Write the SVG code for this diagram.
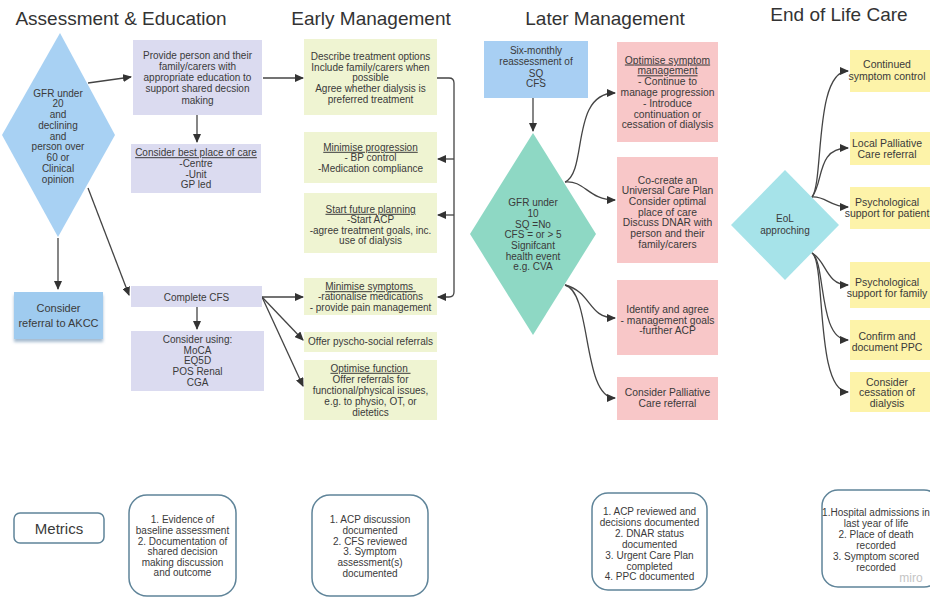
<svg xmlns="http://www.w3.org/2000/svg" width="930" height="602" viewBox="0 0 930 602">
<defs>
<style>
.t{font-family:"Liberation Sans",Arial,sans-serif;font-size:10px;fill:#3a3a3a;text-anchor:middle}
.h{font-family:"Liberation Sans",Arial,sans-serif;font-size:19px;fill:#333;text-anchor:middle}
.u{text-decoration:underline}
.c{fill:none;stroke:#444;stroke-width:1.3}
.lav{fill:#dbdbf0}
.grn{fill:#eff4d2}
.pnk{fill:#f8c7c8}
.yel{fill:#fdf3a9}
.yt{font-size:10.5px}
.met{fill:#fff;stroke:#5f8499;stroke-width:1.5}
</style>
<marker id="ah" markerWidth="9" markerHeight="8" refX="8" refY="4" orient="auto" markerUnits="userSpaceOnUse"><path d="M0,0 L9,4 L0,8 z" fill="#333"/></marker>
<filter id="sh" x="-10%" y="-10%" width="120%" height="130%"><feDropShadow dx="0" dy="3" stdDeviation="1.5" flood-color="#6d8fb0" flood-opacity="0.6"/></filter>
</defs>
<rect width="930" height="602" fill="#fff"/>

<g id="titles">
<text class="h" x="121" y="25">Assessment &amp; Education</text>
<text class="h" x="371" y="25">Early Management</text>
<text class="h" x="605" y="25">Later Management</text>
<text class="h" x="839" y="21">End of Life Care</text>
</g>

<g id="connectors">
<path class="c" d="M88,83 L131,77" marker-end="url(#ah)"/>
<path class="c" d="M263,78 H303" marker-end="url(#ah)"/>
<path class="c" d="M197,115 V142" marker-end="url(#ah)"/>
<path class="c" d="M58,238 V289" marker-end="url(#ah)"/>
<path class="c" d="M88,188 L129,295" marker-end="url(#ah)"/>
<path class="c" d="M197,307 V329" marker-end="url(#ah)"/>
<path class="c" d="M262,297 H303" marker-end="url(#ah)"/>
<path class="c" d="M262,297 L303,340" marker-end="url(#ah)"/>
<path class="c" d="M262,297 L303,386" marker-end="url(#ah)"/>
<path class="c" d="M437,78 H449 Q454,78 454,83 V292 Q454,297 449,297 H438" marker-end="url(#ah)"/>
<path class="c" d="M454,159 H438" marker-end="url(#ah)"/>
<path class="c" d="M454,215 H438" marker-end="url(#ah)"/>
<path class="c" d="M533,98 V131" marker-end="url(#ah)"/>
<path class="c" d="M565,182 C588,172 570,93 615,93" marker-end="url(#ah)"/>
<path class="c" d="M565,182 C585,180 588,200 615,200" marker-end="url(#ah)"/>
<path class="c" d="M565,285 C592,292 588,318 615,318" marker-end="url(#ah)"/>
<path class="c" d="M565,285 C592,292 582,398 615,398" marker-end="url(#ah)"/>
<path class="c" d="M812,197 C824,182 814,71 848,71" marker-end="url(#ah)"/>
<path class="c" d="M812,197 C824,182 816,148 848,148" marker-end="url(#ah)"/>
<path class="c" d="M812,197 C826,196 830,207 848,207" marker-end="url(#ah)"/>
<path class="c" d="M812,253 C826,260 826,285 848,285" marker-end="url(#ah)"/>
<path class="c" d="M812,253 C826,262 818,340 848,340" marker-end="url(#ah)"/>
<path class="c" d="M812,253 C826,262 815,392 848,392" marker-end="url(#ah)"/>
</g>

<g id="gfr20">
<path d="M60,33 L115,135 L58,237 L2,135 Z" fill="#a8d1f3"/>
<text class="t"><tspan x="58" y="96.5">GFR under</tspan><tspan x="58" y="107.2">20</tspan><tspan x="58" y="118">and</tspan><tspan x="58" y="128.7">declining</tspan><tspan x="58" y="139.5">and</tspan><tspan x="58" y="150.2">person over</tspan><tspan x="58" y="161">60  or</tspan><tspan x="58" y="171.7">Clinical</tspan><tspan x="58" y="182.5">opinion</tspan></text>
</g>

<g id="provide">
<rect class="lav" x="133" y="40" width="129" height="75"/>
<text class="t"><tspan x="197.5" y="58.5">Provide person and their</tspan><tspan x="197.5" y="69.8">family/carers with</tspan><tspan x="197.5" y="81">appropriate education to</tspan><tspan x="197.5" y="92.2">support shared decsion</tspan><tspan x="197.5" y="103.5">making</tspan></text>
</g>

<g id="bestplace">
<rect class="lav" x="131" y="144" width="130" height="49"/>
<text class="t"><tspan class="u" x="196" y="156.2">Consider best place of care</tspan><tspan x="196" y="166.8">-Centre</tspan><tspan x="196" y="177.5">-Unit</tspan><tspan x="196" y="187.8">GP led</tspan></text>
</g>

<g id="akcc">
<rect x="14" y="292" width="89" height="47" fill="#9fcbef" filter="url(#sh)"/>
<text class="t" style="font-size:11px"><tspan x="58.5" y="312">Consider</tspan><tspan x="58.5" y="327">referral to AKCC</tspan></text>
</g>

<g id="cfs">
<rect class="lav" x="131" y="286" width="131" height="21"/>
<text class="t" x="196.5" y="300.5">Complete CFS</text>
</g>

<g id="using">
<rect class="lav" x="131" y="331" width="133" height="60"/>
<text class="t"><tspan x="197.5" y="342.8">Consider using:</tspan><tspan x="197.5" y="353.5">MoCA</tspan><tspan x="197.5" y="364.2">EQ5D</tspan><tspan x="197.5" y="375">POS Renal</tspan><tspan x="197.5" y="385.8">CGA</tspan></text>
</g>

<g id="describe">
<rect class="grn" x="304" y="39" width="133" height="76"/>
<text class="t"><tspan x="370.5" y="60.2">Describe treatment options</tspan><tspan x="370.5" y="70.8">Include family/carers when</tspan><tspan x="370.5" y="81.2">possible</tspan><tspan x="370.5" y="92.2">Agree whether dialysis is</tspan><tspan x="370.5" y="102.8">preferred treatment</tspan></text>
</g>

<g id="progression">
<rect class="grn" x="304" y="132" width="133" height="51"/>
<text class="t"><tspan class="u" x="370.5" y="150.8">Minimise progression</tspan><tspan x="370.5" y="161.2">- BP control</tspan><tspan x="370.5" y="171.8">-Medication compliance</tspan></text>
</g>

<g id="planning">
<rect class="grn" x="304" y="193" width="133" height="60"/>
<text class="t"><tspan class="u" x="370.5" y="212.8">Start future planning</tspan><tspan x="370.5" y="223.3">-Start ACP</tspan><tspan x="370.5" y="233.8">-agree treatment goals, inc.</tspan><tspan x="370.5" y="244.3">use of dialysis</tspan></text>
</g>

<g id="symptoms">
<rect class="grn" x="304" y="278" width="133" height="37"/>
<text class="t"><tspan class="u" x="370.5" y="290.2">Minimise symptoms </tspan><tspan x="370.5" y="300.4">-rationalise medications</tspan><tspan x="370.5" y="310.8">- provide pain management</tspan></text>
</g>

<g id="psycho">
<rect class="grn" x="304" y="332" width="133" height="20"/>
<text class="t" x="370.5" y="345.2">Offer pyscho-social referrals</text>
</g>

<g id="function">
<rect class="grn" x="304" y="360" width="133" height="60"/>
<text class="t"><tspan class="u" x="370.5" y="371.8">Optimise function </tspan><tspan x="370.5" y="382.8">Offer referrals for</tspan><tspan x="370.5" y="394">functional/physical issues,</tspan><tspan x="370.5" y="405">e.g. to physio, OT, or</tspan><tspan x="370.5" y="415.8">dietetics</tspan></text>
</g>

<g id="reassess">
<rect x="484" y="41" width="104" height="57" fill="#a8cff3"/>
<text class="t"><tspan x="536" y="54.2">Six-monthly</tspan><tspan x="536" y="65.2">reassessment of</tspan><tspan x="536" y="76.6">SQ</tspan><tspan x="536" y="86.8">CFS</tspan></text>
</g>

<g id="gfr10">
<path d="M533,133 L596,234 L533,335 L470,234 Z" fill="#8ed8c4"/>
<text class="t"><tspan x="533" y="206.2">GFR under</tspan><tspan x="533" y="216.9">10</tspan><tspan x="533" y="227.6">SQ =No</tspan><tspan x="533" y="238.3">CFS  = or &gt; 5</tspan><tspan x="533" y="249">Signifcant</tspan><tspan x="533" y="259.7">health event</tspan><tspan x="533" y="270.4">e.g. CVA</tspan></text>
</g>

<g id="optsym">
<rect class="pnk" x="617" y="42" width="101" height="100"/>
<text class="t" style="font-size:10.3px"><tspan class="u" x="667.5" y="63.5">Optimise symptom</tspan><tspan class="u" x="667.5" y="74.3">management</tspan><tspan x="667.5" y="85.1">- Continue to</tspan><tspan x="667.5" y="95.9">manage progression</tspan><tspan x="667.5" y="106.7">- Introduce</tspan><tspan x="667.5" y="117.5">continuation or</tspan><tspan x="667.5" y="128.3">cessation of dialysis</tspan></text>
</g>

<g id="cocreate">
<rect class="pnk" x="617" y="157" width="101" height="106"/>
<text class="t" style="font-size:10.3px"><tspan x="667.5" y="183.5">Co-create an</tspan><tspan x="667.5" y="194.2">Universal Care Plan</tspan><tspan x="667.5" y="204.9">Consider optimal</tspan><tspan x="667.5" y="215.6">place of care</tspan><tspan x="667.5" y="226.3">Discuss DNAR with</tspan><tspan x="667.5" y="237">person and their</tspan><tspan x="667.5" y="247.7">family/carers</tspan></text>
</g>

<g id="identify">
<rect class="pnk" x="617" y="280" width="101" height="75"/>
<text class="t" style="font-size:10.3px"><tspan x="667.5" y="312.8">Identify and agree</tspan><tspan x="667.5" y="323.5">- management goals</tspan><tspan x="667.5" y="334.2">-further ACP</tspan></text>
</g>

<g id="palliative">
<rect class="pnk" x="617" y="377" width="101" height="43"/>
<text class="t" style="font-size:10.3px"><tspan x="667.5" y="396.2">Consider Palliative</tspan><tspan x="667.5" y="406.8">Care referral</tspan></text>
</g>

<g id="eol">
<path d="M785,170 L839,225 L785,280 L731,225 Z" fill="#a6e3e9"/>
<text class="t"><tspan x="785" y="222">EoL</tspan><tspan x="785" y="233.8">approching</tspan></text>
</g>

<g id="continued">
<rect class="yel" x="850" y="50" width="85" height="42"/>
<text class="t yt"><tspan x="887" y="67.8">Continued</tspan><tspan x="887" y="79.5">symptom control</tspan></text>
</g>

<g id="localpall">
<rect class="yel" x="850" y="132" width="85" height="33"/>
<text class="t yt"><tspan x="887" y="146.5">Local Palliative</tspan><tspan x="887" y="158">Care referral</tspan></text>
</g>

<g id="psychpatient">
<rect class="yel" x="850" y="187" width="85" height="42"/>
<text class="t yt"><tspan x="887" y="205.5">Psychological</tspan><tspan x="887" y="216.5">support for patient</tspan></text>
</g>

<g id="psychfamily">
<rect class="yel" x="850" y="262" width="85" height="46"/>
<text class="t yt"><tspan x="887" y="285.5">Psychological</tspan><tspan x="887" y="296.5">support for family</tspan></text>
</g>

<g id="confirm">
<rect class="yel" x="850" y="320" width="85" height="40"/>
<text class="t yt"><tspan x="887" y="340">Confirm and</tspan><tspan x="887" y="350.5">document PPC</tspan></text>
</g>

<g id="cessation">
<rect class="yel" x="850" y="372" width="85" height="40"/>
<text class="t yt"><tspan x="887" y="385.5">Consider</tspan><tspan x="887" y="395.8">cessation of</tspan><tspan x="887" y="406.5">dialysis</tspan></text>
</g>

<g id="metrics">
<rect class="met" x="14" y="513" width="90" height="30" rx="6"/>
<text class="t" x="59" y="533.5" style="font-size:15px">Metrics</text>
</g>

<g id="metric1">
<rect class="met" x="129" y="495" width="107" height="101" rx="18"/>
<text class="t"><tspan x="182.5" y="522.8">1. Evidence of</tspan><tspan x="182.5" y="533.5">baseline assessment</tspan><tspan x="182.5" y="544.5">2. Documentation of</tspan><tspan x="182.5" y="555.2">shared decision</tspan><tspan x="182.5" y="566.2">making discussion</tspan><tspan x="182.5" y="576.2">and outcome</tspan></text>
</g>

<g id="metric2">
<rect class="met" x="312" y="495" width="116" height="101" rx="18"/>
<text class="t"><tspan x="370" y="522.8">1. ACP discussion</tspan><tspan x="370" y="533.5">documented</tspan><tspan x="370" y="544.5">2. CFS reviewed</tspan><tspan x="370" y="555.2">3. Symptom</tspan><tspan x="370" y="566.2">assessment(s)</tspan><tspan x="370" y="576.8">documented</tspan></text>
</g>

<g id="metric3">
<rect class="met" x="592" y="493" width="115" height="97" rx="16"/>
<text class="t"><tspan x="649.5" y="515.2">1. ACP reviewed and</tspan><tspan x="649.5" y="526.2">decisions documented</tspan><tspan x="649.5" y="536.8">2. DNAR status</tspan><tspan x="649.5" y="547.8">documented</tspan><tspan x="649.5" y="558.5">3. Urgent Care Plan</tspan><tspan x="649.5" y="569.5">completed</tspan><tspan x="649.5" y="580.2">4. PPC documented</tspan></text>
</g>

<g id="metric4">
<rect class="met" x="822" y="490" width="118" height="97" rx="16"/>
<text class="t"><tspan x="876" y="515.5">1.Hospital admissions in</tspan><tspan x="876" y="526.5">last year of life</tspan><tspan x="876" y="537.5">2. Place of death</tspan><tspan x="876" y="548.5">recorded</tspan><tspan x="876" y="559.5">3. Symptom scored</tspan><tspan x="876" y="570.5">recorded</tspan></text>
<text x="911" y="582" style="font-family:'Liberation Sans',Arial,sans-serif;font-size:12px;fill:#c4c4c4;text-anchor:middle">miro</text>
</g>
</svg>
